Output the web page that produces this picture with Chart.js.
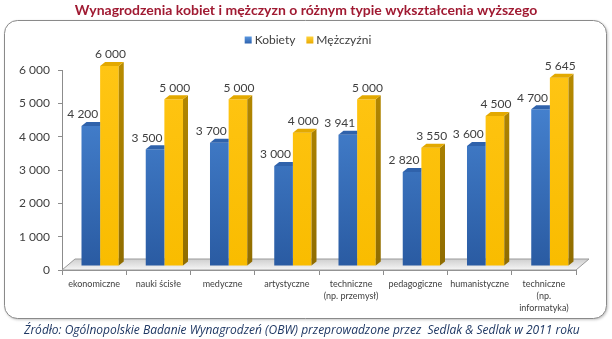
<!DOCTYPE html>
<html>
<head>
<meta charset="utf-8">
<script src="https://cdn.jsdelivr.net/npm/chart.js@4.4.1/dist/chart.umd.min.js"></script>
<style>
  html, body { margin: 0; padding: 0; background: #fff; }
  #wrap { width: 612px; height: 339px; }
</style>
</head>
<body>
<div id="wrap"><canvas id="chart" width="612" height="339"></canvas></div>
<script>
// dane
const categories = [
    ['ekonomiczne'],
    ['nauki ścisłe'],
    ['medyczne'],
    ['artystyczne'],
    ['techniczne', '(np. przemysł)'],
    ['pedagogiczne'],
    ['humanistyczne'],
    ['techniczne', '(np.', 'informatyka)']
];
const seriesNames = ['Kobiety', 'Mężczyźni'];
const kobiety = [4200, 3500, 3700, 3000, 3941, 2820, 3600, 4700];
const mezczyzni = [6000, 5000, 5000, 4000, 5000, 3550, 4500, 5645];
const yTicks = [0, 1000, 2000, 3000, 4000, 5000, 6000];

const titleText = 'Wynagrodzenia kobiet i mężczyzn o różnym typie wykształcenia wyższego';
const sourceText = 'Źródło: Ogólnopolskie Badanie Wynagrodzeń (OBW) przeprowadzone przez  Sedlak & Sedlak w 2011 roku';

const DX = 6, DY = -4;      // przesunięcie słupków w głąb
const SX = 5, SY = -4;      // głębokość samego słupka
const FLOOR_DX = 13, FLOOR_DY = -11;

const fmt = v => String(v).replace(/\B(?=(\d{3})+(?!\d))/g, ' ');

function vGrad(ctx, area, top, bottom) {
    const g = ctx.createLinearGradient(0, area.top, 0, area.bottom);
    g.addColorStop(0, top);
    g.addColorStop(1, bottom);
    return g;
}

const frame3d = {
    id: 'frame3d',
    beforeDraw(chart) {
        const ctx = chart.ctx;
        ctx.save();
        ctx.fillStyle = '#fff';
        ctx.fillRect(0, 0, chart.width, chart.height);
        // ramka
        ctx.shadowColor = 'rgba(0,0,0,0.3)';
        ctx.shadowBlur = 3;
        ctx.shadowOffsetX = 1;
        ctx.shadowOffsetY = 1;
        ctx.beginPath();
        ctx.roundRect(4.5, 20.5, 602, 298, 13);
        ctx.fillStyle = '#fff';
        ctx.fill();
        ctx.shadowColor = 'transparent';
        ctx.strokeStyle = '#8a8a8a';
        ctx.lineWidth = 1;
        ctx.stroke();
        // tytuł
        ctx.fillStyle = '#A01A32';
        ctx.font = 'bold 14px Lato';
        ctx.textAlign = 'center';
        ctx.textBaseline = 'middle';
        ctx.fillText(titleText, 306, 10);
        // źródło
        ctx.fillStyle = '#1F3864';
        ctx.font = 'italic 12px "Open Sans"';
        ctx.textAlign = 'left';
        ctx.fillText(sourceText, 24, 331);
        // legenda
        ctx.font = '12px Lato';
        const cols = [['#5a97e0', '#2d62ad'], ['#ffd23a', '#e8a900']];
        const widths = seriesNames.map(n => ctx.measureText(n).width);
        const total = 7 + 3 + widths[0] + 11 + 7 + 3 + widths[1];
        let x = 308 - total / 2;
        const y = 40;
        seriesNames.forEach((n, i) => {
            const g = ctx.createLinearGradient(0, y - 3.5, 0, y + 3.5);
            g.addColorStop(0, cols[i][0]);
            g.addColorStop(1, cols[i][1]);
            ctx.fillStyle = g;
            ctx.fillRect(x, y - 3.5, 7, 7);
            x += 10;
            ctx.fillStyle = '#404040';
            ctx.fillText(n, x, y);
            x += widths[i] + 11;
        });
        ctx.restore();
    },
    beforeDatasetsDraw(chart) {
        const ctx = chart.ctx;
        const a = chart.chartArea;
        // podłoga
        ctx.save();
        ctx.beginPath();
        ctx.moveTo(a.left, a.bottom);
        ctx.lineTo(a.right, a.bottom);
        ctx.lineTo(a.right + FLOOR_DX, a.bottom + FLOOR_DY);
        ctx.lineTo(a.left + FLOOR_DX, a.bottom + FLOOR_DY);
        ctx.closePath();
        const g = ctx.createLinearGradient(0, a.bottom + FLOOR_DY, 0, a.bottom);
        g.addColorStop(0, '#cfcfcf');
        g.addColorStop(0.6, '#e6e6e6');
        g.addColorStop(1, '#f7f7f7');
        ctx.fillStyle = g;
        ctx.fill();
        ctx.strokeStyle = '#9a9a9a';
        ctx.lineWidth = 1;
        ctx.stroke();
        ctx.restore();
        // słupki rysowane nieco w głębi
        ctx.save();
        ctx.translate(DX, DY);
    },
    afterDatasetsDraw(chart) {
        const ctx = chart.ctx;
        const a = chart.chartArea;
        const blue = chart.getDatasetMeta(0).data;
        const yellow = chart.getDatasetMeta(1).data;
        yellow.forEach((bar, i) => {
            const p = bar.getProps(['x', 'y', 'base', 'width'], true);
            const x0 = p.x - p.width / 2, x1 = p.x + p.width / 2;
            // bok
            ctx.beginPath();
            ctx.moveTo(x1, p.y);
            ctx.lineTo(x1 + SX, p.y + SY);
            ctx.lineTo(x1 + SX, p.base + SY);
            ctx.lineTo(x1, p.base);
            ctx.closePath();
            ctx.fillStyle = vGrad(ctx, a, '#b88b00', '#8f6c00');
            ctx.fill();
            // góra
            ctx.beginPath();
            ctx.moveTo(x0, p.y);
            ctx.lineTo(x1, p.y);
            ctx.lineTo(x1 + SX, p.y + SY);
            ctx.lineTo(x0 + SX, p.y + SY);
            ctx.closePath();
            ctx.fillStyle = '#e3a900';
            ctx.fill();

            // góra niebieskiego słupka, schowana za żółtym
            const b = blue[i].getProps(['x', 'y', 'width'], true);
            const bx0 = b.x - b.width / 2, bx1 = b.x + b.width / 2;
            ctx.save();
            ctx.beginPath();
            ctx.rect(bx0 - 2, b.y - 10, x0 - bx0 + 2, 12);
            ctx.clip();
            ctx.beginPath();
            ctx.moveTo(bx0, b.y);
            ctx.lineTo(bx1, b.y);
            ctx.lineTo(bx1 + SX, b.y + SY);
            ctx.lineTo(bx0 + SX, b.y + SY);
            ctx.closePath();
            ctx.fillStyle = '#2f62ab';
            ctx.fill();
            ctx.restore();
        });
        ctx.restore();

        // etykiety wartości
        ctx.save();
        ctx.font = '12px Lato';
        ctx.fillStyle = '#404040';
        ctx.textAlign = 'center';
        ctx.textBaseline = 'middle';
        [blue, yellow].forEach((bars, d) => {
            const vals = chart.data.datasets[d].data;
            bars.forEach((bar, i) => {
                const off = d === 0 ? -2 : 7;
                ctx.fillText(fmt(vals[i]), bar.x + off, bar.y - 15.5);
            });
        });
        ctx.restore();
    }
};

new Chart(document.getElementById('chart'), {
    type: 'bar',
    data: {
        labels: categories,
        datasets: [
            {
                label: seriesNames[0],
                data: kobiety,
                backgroundColor: c => vGrad(c.chart.ctx, c.chart.chartArea || {top: 70, bottom: 270}, '#4b8ad9', '#2a5ba2'),
                borderWidth: 0
            },
            {
                label: seriesNames[1],
                data: mezczyzni,
                backgroundColor: c => vGrad(c.chart.ctx, c.chart.chartArea || {top: 70, bottom: 270}, '#ffc514', '#f9bc00'),
                borderWidth: 0
            }
        ]
    },
    options: {
        responsive: false,
        animation: false,
        events: [],
        layout: { padding: { left: 0, right: 36, top: 70, bottom: 0 } },
        datasets: { bar: { categoryPercentage: 0.58, barPercentage: 1 } },
        plugins: {
            legend: { display: false },
            title: { display: false },
            tooltip: { enabled: false }
        },
        scales: {
            x: {
                afterFit: s => { s.height = 69; },
                grid: { offset: true, drawOnChartArea: false, drawTicks: true, tickLength: 5, color: '#8c8c8c' },
                border: { display: true, color: '#8c8c8c' },
                ticks: {
                    autoSkip: false,
                    maxRotation: 0,
                    padding: 3,
                    color: '#404040',
                    font: { family: 'Lato', size: 9, lineHeight: 1.35 }
                }
            },
            y: {
                min: 0,
                max: 6000,
                afterFit: s => { s.width = 62; },
                afterBuildTicks: s => { s.ticks = yTicks.map(v => ({ value: v })); },
                grid: { drawOnChartArea: false, drawTicks: true, tickLength: 4, color: '#8c8c8c' },
                border: { display: true, color: '#8c8c8c' },
                ticks: {
                    padding: 8,
                    color: '#404040',
                    font: { family: 'Lato', size: 12 },
                    callback: v => fmt(v)
                }
            }
        }
    },
    plugins: [frame3d]
});
</script>
</body>
</html>
